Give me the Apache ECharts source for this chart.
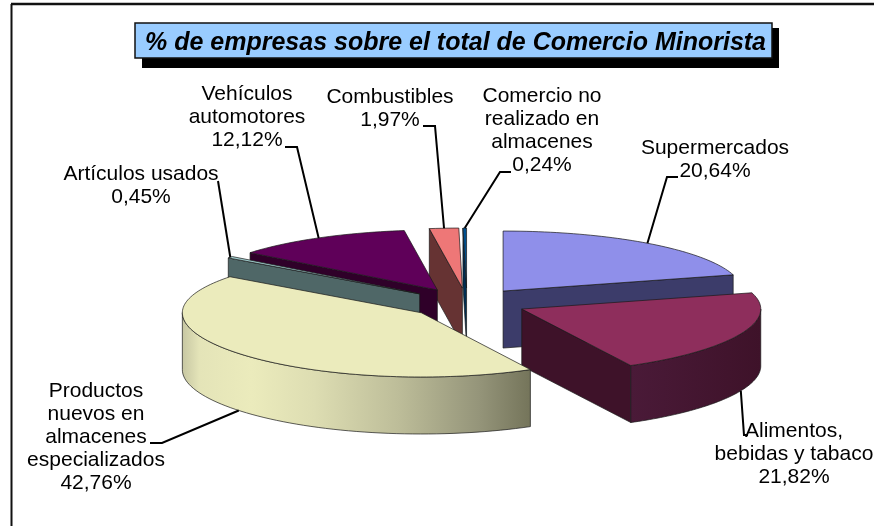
<!DOCTYPE html>
<html><head><meta charset="utf-8">
<style>html,body{margin:0;padding:0;background:#fff}#c{width:874px;height:526px}</style>
<script src="https://cdn.jsdelivr.net/npm/echarts@6/dist/echarts.min.js"></script>
</head><body><div id="c"></div>
<script>
// ---- data ----
const titleText = '% de empresas sobre el total de Comercio Minorista';
const categories = ['Supermercados','Alimentos,\nbebidas y tabaco','Productos\nnuevos en\nalmacenes\nespecializados','Artículos usados','Vehículos\nautomotores','Combustibles','Comercio no\nrealizado en\nalmacenes'];
const values = [20.64,21.82,42.76,0.45,12.12,1.97,0.24];
// ---- styles ----
const topColors = ['#8F8FEA','#8E2E5C','#EBEBBC','#A3D0D0','#5F0059','#EE7777','#00508F'];
const sideColors = ['#3C3C6A','#3E1229','#EBEBBC','#4F6767','#2F0029','#663333','#002E52'];
// ---- layout (pixels) ----
const CX=467, CY=303, RX=239, RY=60, DEPTH=57, EXPLODE=0.25, W=874, H=526, FRONT_STRETCH=3.2;
const drawOrder = [0,1,6,5,4,3,2];
const labelCenters = [[715,160],[794,454],[96,437],[141,186],[247,117],[390,109],[542,131]];
const leaderElbows = [[[678,177],[667,177]],[[748,435],[744,435]],[[150,443],[162,443]],[[218,181]],[[285,147],[297,147]],[[423,126],[435,126]],[[511,172],[500,172]]];

const total = values.reduce((a,b)=>a+b,0);
let acc=0;
const angles = values.map(v=>{const s=acc; acc+=v; return [s/total*2*Math.PI, acc/total*2*Math.PI];});
const depthU = DEPTH/RY;
function geom(i){
  const [a0,a1]=angles[i], m=(a0+a1)/2;
  return {a0,a1,m,ax:EXPLODE*Math.sin(m),ay:EXPLODE*Math.cos(m)};
}
// slight perspective: the part of the pie nearest the viewer drops a little
const warp=v=>v<0 ? v-FRONT_STRETCH/RY*v*v : v;
const OUT='rgba(25,25,25,0.7)';
function renderSlice(params,api){
  const i=api.value(2), g=geom(i);
  const P=(u,v,d)=>api.coord([u,warp(v)-(d?depthU:0)]);
  const rim=a=>[g.ax+Math.sin(a),g.ay+Math.cos(a)];
  const kids=[];
  const poly=(pts,fill)=>kids.push({type:'polygon',shape:{points:pts},style:{fill,stroke:OUT,lineWidth:1}});
  const wall=a=>{const [u,v]=rim(a);return [P(g.ax,g.ay,0),P(u,v,0),P(u,v,1),P(g.ax,g.ay,1)];};
  // flat walls that face the viewer
  if(Math.cos(g.a0-Math.PI/2)<-1e-6) poly(wall(g.a0),sideColors[i]);
  if(Math.cos(g.a1+Math.PI/2)<-1e-6) poly(wall(g.a1),sideColors[i]);
  // curved outer wall (front half only)
  const f0=Math.max(g.a0,Math.PI/2), f1=Math.min(g.a1,1.5*Math.PI);
  if(f1>f0){
    const up=[],dn=[];
    for(let k=0;k<=60;k++){const a=f0+(f1-f0)*k/60;const [u,v]=rim(a);up.push(P(u,v,0));dn.unshift(P(u,v,1));}
    let fill=sideColors[i];
    if(i===2) fill=new echarts.graphic.LinearGradient(0,0,1,0,[{offset:0,color:'#C6C6A2'},{offset:0.05,color:'#E4E4B8'},{offset:0.2,color:'#EBEBBC'},{offset:0.38,color:'#DDDDB2'},{offset:0.62,color:'#BDBD99'},{offset:0.85,color:'#95957A'},{offset:1,color:'#74745A'}]);
    if(i===1) fill=new echarts.graphic.LinearGradient(0,0,1,0,[{offset:0,color:'#4A1A38'},{offset:1,color:'#3E1229'}]);
    poly(up.concat(dn),fill);
  }
  // top face
  const top=[P(g.ax,g.ay,0)];
  const n=Math.max(2,Math.round((g.a1-g.a0)*40));
  for(let k=0;k<=n;k++){const [u,v]=rim(g.a0+(g.a1-g.a0)*k/n);top.push(P(u,v,0));}
  poly(top,topColors[i]);
  return {type:'group',children:kids};
}
function renderLabel(params,api){
  const i=api.value(2), g=geom(i);
  const front=Math.cos(g.m)<0;
  const end=api.coord([g.ax+Math.sin(g.m),warp(g.ay+Math.cos(g.m))-(front?depthU:0)]);
  const pts=leaderElbows[i].concat([end]);
  const txt=categories[i]+'\n'+values[i].toFixed(2).replace('.',',')+'%';
  return {type:'group',children:[
    {type:'polyline',shape:{points:pts},style:{fill:'none',stroke:'#000',lineWidth:2}},
    {type:'text',x:labelCenters[i][0],y:labelCenters[i][1],style:{text:txt,align:'center',verticalAlign:'middle',fill:'#000',fontFamily:'"Liberation Sans"',fontSize:21,lineHeight:23}}
  ]};
}
const rows=drawOrder.map(i=>[0,0,i]);
const chart=echarts.init(document.getElementById('c'),null,{renderer:'canvas'});
chart.setOption({
  animation:false,
  backgroundColor:'#fff',
  title:{text:titleText,top:30,left:135,
    textStyle:{fontFamily:'"Liberation Sans"',fontSize:25,fontWeight:'bold',fontStyle:'italic',color:'#000'},padding:[1,0,0,10]},
  grid:{left:0,right:0,top:0,bottom:0},
  xAxis:{type:'value',show:false,min:-CX/RX,max:(W-CX)/RX},
  yAxis:{type:'value',show:false,min:(CY-H)/RY,max:CY/RY},
  graphic:[
    {type:'line',z:-1,shape:{x1:11.5,y1:4,x2:11.5,y2:526},style:{stroke:'#111',lineWidth:2}},
    {type:'line',z:-1,shape:{x1:11,y1:4,x2:874,y2:4},style:{stroke:'#111',lineWidth:2.5}},
    {type:'rect',z:1,shape:{x:142,y:28,width:637,height:40},style:{fill:'#000'}},
    {type:'rect',z:2,shape:{x:135,y:23,width:637,height:35},style:{fill:'#99CCFF',stroke:'#111',lineWidth:1.5}}
  ],
  series:[
    {type:'custom',coordinateSystem:'cartesian2d',silent:true,clip:false,encode:{x:0,y:1},data:rows,renderItem:renderSlice,z:3},
    {type:'custom',coordinateSystem:'cartesian2d',silent:true,clip:false,encode:{x:0,y:1},data:rows,renderItem:renderLabel,z:4}
  ]
});
</script></body></html>
